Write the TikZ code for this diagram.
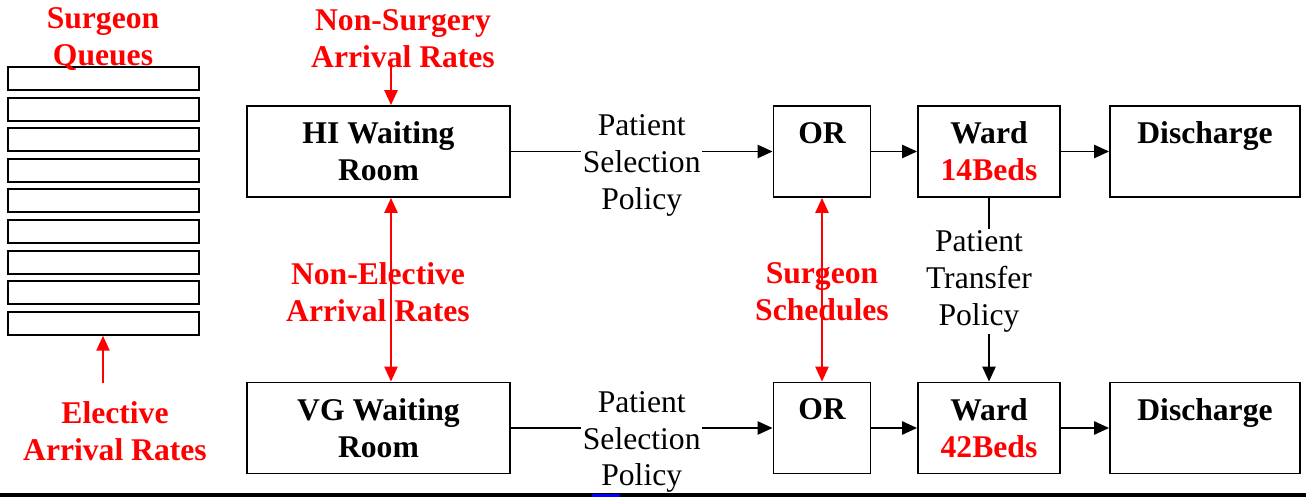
\documentclass[tikz,border=0pt]{standalone}
\usepackage{fontspec}
\setmainfont{Liberation Serif}
\usepackage{xcolor}
\usetikzlibrary{arrows.meta,positioning}

\begin{document}
\begin{tikzpicture}[x=0.02cm, y=-0.02cm,
  box/.style={draw, line width=1.1pt, minimum height=1.82cm,
              font=\fontsize{18}{21}\selectfont\bfseries, align=center},
  queue/.style={draw, line width=1.1pt, minimum width=3.82cm,
                minimum height=0.46cm, inner sep=0pt},
  lbl/.style={font=\fontsize{18}{21}\selectfont, align=center, inner sep=1pt},
  rlbl/.style={font=\fontsize{18}{21}\selectfont\bfseries, text=red, align=center},
  arr/.style={-{Triangle[length=8.5pt,width=7.5pt]}, line width=1.1pt},
  rarr/.style={arr, red},
  rdarr/.style={{Triangle[length=8.5pt,width=7.5pt]}-{Triangle[length=8.5pt,width=7.5pt]},
                line width=1.1pt, red}
]
  \useasboundingbox (0,0) rectangle (1306,497);

  % surgeon queues
  \foreach \i in {1,...,9}
    \node[queue] (q\i) at (103.5, {78.5+30.6*(\i-1)}) {};
  \node[rlbl] (squeues) at (103,39) {Surgeon\\Queues};
  \node[rlbl] (elective) at (115,431) {Elective\\Arrival Rates};
  \coordinate (elin) at (103,383);
  \draw[rarr] (elin) -- (elin |- q9.south);

  % upper row (HI)
  \node[box, minimum width=5.26cm] (hiwait) at (378.5,151.5) {HI Waiting\\Room};
  \node[box, minimum width=1.94cm] (hior)   at (822,151.5)   {OR\\\vphantom{14Beds}};
  \node[box, minimum width=2.84cm] (hiward) at (989,151.5)   {Ward\\\textcolor{red}{14Beds}};
  \node[box, minimum width=3.8cm]  (hidis)  at (1205,151.5)  {Discharge\\\vphantom{14Beds}};

  % lower row (VG)
  \node[box, minimum width=5.26cm] (vgwait) at (378.5,428) {VG Waiting\\Room};
  \node[box, minimum width=1.94cm] (vgor)   at (822,428)   {OR\\\vphantom{42Beds}};
  \node[box, minimum width=2.84cm] (vgward) at (989,428)   {Ward\\\textcolor{red}{42Beds}};
  \node[box, minimum width=3.8cm]  (vgdis)  at (1205,428)  {Discharge\\\vphantom{42Beds}};

  \draw[arr] (hiwait) -- node[lbl, fill=white, yshift=-0.28cm] (hisel) {Patient\\Selection\\Policy} (hior);
  \draw[arr] (hior) -- (hiward);
  \draw[arr] (hiward) -- (hidis);
  \draw[arr] (vgwait) -- node[lbl, fill=white, yshift=-0.28cm] (vgsel) {Patient\\Selection\\Policy} (vgor);
  \draw[arr] (vgor) -- (vgward);
  \draw[arr] (vgward) -- (vgdis);
  \draw[arr] (hiward) -- node[lbl, fill=white, xshift=-0.2cm, yshift=0.16cm] (transfer) {Patient\\Transfer\\Policy} (vgward);

  % arrival rates and schedules
  \node[rlbl] (nonsurg) at (403,39) {Non-Surgery\\Arrival Rates};
  \coordinate (nsin) at (391,65);
  \draw[rarr] (nsin) -- (nsin |- hiwait.north);
  \node[rlbl] (nonelec) at (378,292) {Non-Elective\\Arrival Rates};
  \draw[rdarr] (nsin |- hiwait.south) -- (nsin |- vgwait.north);
  \node[rlbl] (sched) at (822,292) {Surgeon\\Schedules};
  \draw[rdarr] (hior) -- (vgor);

  % page edge
  \draw[line width=2.2pt] (0,495) -- (1306,495);
  \draw[blue, line width=2pt] (592,496) -- (620,496);
\end{tikzpicture}
\end{document}
